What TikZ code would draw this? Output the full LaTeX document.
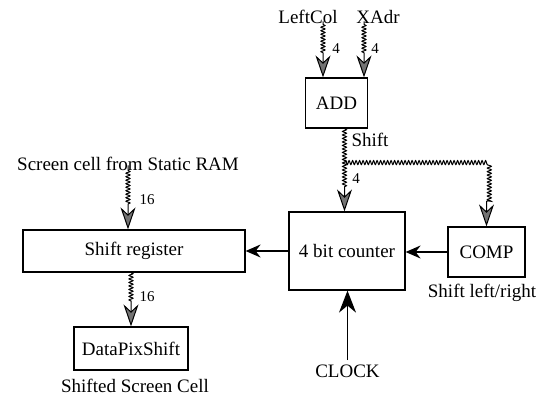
\documentclass[tikz,border=0pt]{standalone}
\usepackage{fontspec}
\setmainfont{Liberation Serif}
\usetikzlibrary{arrows.meta,decorations.pathmorphing,calc}
\begin{document}
\begin{tikzpicture}[x=1pt,y=-1pt,
 box/.style={draw, line width=1.2pt, inner sep=0pt, font=\fontsize{19}{21}\selectfont},
 lbl/.style={inner sep=0pt, anchor=base, font=\fontsize{19}{21}\selectfont},
 wlbl/.style={inner sep=0pt, font=\fontsize{15}{16}\selectfont},
 bus/.style={line width=1pt, decorate, decoration={snake, amplitude=2pt, segment length=3.5pt, post length=24pt}, -{Stealth[length=22pt,width=15pt,inset=7pt,fill=black!55]}},
 sig/.style={line width=1.3pt, -{Stealth[length=15pt,width=13pt,inset=5pt]}}
]
\useasboundingbox (0,0) rectangle (549,396);

% boxes
\node[box, minimum width=62pt, minimum height=50pt] (ADD) at (336.5,103) {ADD};
\node[box, minimum width=116pt, minimum height=78pt] (counter) at (347,251) {4 bit counter};
\node[box, minimum width=77pt, minimum height=50pt] (COMP) at (486.5,252) {COMP};
\node[box, minimum width=222pt, minimum height=42pt] (shreg) at (134,251) {Shift register};
\node[box, minimum width=114pt, minimum height=43pt] (dps) at (131,348.5) {DataPixShift};

% texts
\node[lbl] (leftcol) at (308,24) {LeftCol};
\node[lbl] (xadr) at (378,24) {XAdr};
\node[lbl] (shiftlbl) at (370,146) {Shift};
\node[lbl] (screen) at (128,170) {Screen cell from Static RAM};
\node[lbl] (shiftlr) at (482,297) {Shift left/right};
\node[lbl] (clock) at (347.5,377) {CLOCK};
\node[lbl] (shifted) at (135,392) {Shifted Screen Cell};

% width labels
\node[wlbl] (w1) at (336,49) {4};
\node[wlbl] (w2) at (375,49) {4};
\node[wlbl] (w3) at (356,179) {4};
\node[wlbl] (w4) at (147,200) {16};
\node[wlbl] (w5) at (147,297) {16};

% buses
\coordinate (lc) at ($(leftcol.south)+(15,0)$);
\coordinate (xa) at ($(xadr.south)+(-14,0)$);
\draw[bus, shorten <=3pt] (lc) -- (lc |- ADD.north);
\draw[bus, shorten <=3pt] (xa) -- (xa |- ADD.north);
\coordinate (sh) at ($(ADD.south)+(8,0)$);
\coordinate (br) at ($(sh)+(0,34)$);
\draw[bus] (sh) -- (sh |- counter.north);
\draw[bus] (br) -| (COMP.north);
\draw[bus, shorten <=5pt] (screen.south) -- (screen.south |- shreg.north);
\draw[bus] (dps.north |- shreg.south) -- (dps.north);

% signals
\draw[sig] (counter.west) -- (counter.west -| shreg.east);
\draw[sig] (COMP.west) -- (COMP.west -| counter.east);
\draw[sig, -{Stealth[length=22pt,width=17pt,inset=7pt]}, shorten <=17pt] (clock.base) -- (clock.base |- counter.south);
\end{tikzpicture}
\end{document}
